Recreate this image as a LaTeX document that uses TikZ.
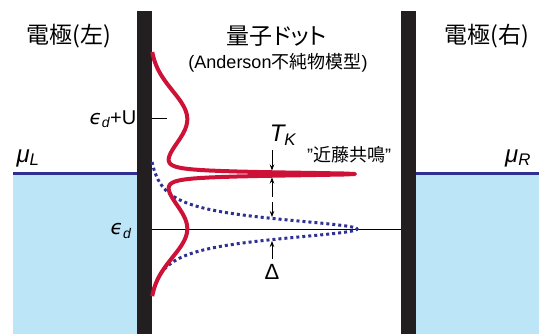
\documentclass[tikz,border=0pt]{standalone}
\usepackage{fontspec}
\setmainfont{Liberation Sans}
\newfontfamily\jpfont[RawFeature=+palt]{Noto Sans CJK JP}
\newfontfamily\grfont{DejaVu Sans}
\usetikzlibrary{arrows.meta}

\definecolor{wallcol}{RGB}{35,31,32}
\definecolor{fermicol}{RGB}{46,49,146}
\definecolor{seacol}{RGB}{189,229,248}
\definecolor{peakcol}{RGB}{206,17,55}

\tikzset{
  wall/.style={fill=wallcol,draw=none},
  sea/.style={fill=seacol,draw=none},
  fermi/.style={fermicol,line width=3pt},
  lbl/.style={inner sep=0pt,font=\fontsize{23}{27}\selectfont},
  sym/.style={inner sep=0pt,font=\fontsize{22}{26}\selectfont},
  gap/.style={-{Stealth[length=6pt,width=4.5pt]},line width=0.8pt},
}

\begin{document}
\begin{tikzpicture}[x=1pt,y=-1pt]
\useasboundingbox (0,0) rectangle (541,334);
% electrodes
\fill[sea] (13,174) rectangle (137,334);
\fill[sea] (416,174) rectangle (539,334);
\draw[fermi] (13,174) -- (137,174);
\draw[fermi] (416,174) -- (539,174);
% barriers
\fill[wall] (137,11) rectangle (152,334);
\fill[wall] (401,11) rectangle (416,334);
% levels
\draw[line width=1pt] (152,229) -- (401,229);
\draw[line width=1pt] (152,119) -- (167,119);
% bare level (dotted)
\draw[fermicol,line width=3pt,dash pattern=on 3pt off 3pt,variable=\t,samples=269,domain=162:296]
  plot ({152+212.7/(1+((\t-229)/13)^2)-7.7},\t);
% spectral function
\draw[peakcol,line width=4pt,line join=round,variable=\t,samples=489,domain=52:296]
  plot ({150+37*exp(-((\t-119)/40)^2)+37*exp(-((\t-229)/40)^2)+194/(1+((\t-174)/2)^2)},\t);
% widths
\coordinate (tkA) at (272,150);
\coordinate (tkB) at (272,170.5);
\coordinate (tkC) at (272,197);
\coordinate (tkD) at (272,177.5);
\coordinate (dlA) at (272,202);
\coordinate (dlB) at (272,217);
\coordinate (dlC) at (272,259);
\coordinate (dlD) at (272,241);
\draw[gap] (tkA) -- (tkB);
\draw[gap] (tkC) -- (tkD);
\draw[gap] (dlA) -- (dlB);
\draw[gap] (dlC) -- (dlD);
% labels
\node[lbl] (leftlbl) at (69,36) {\jpfont 電極(左)};
\node[lbl] (dotlbl) at (277,36) {\jpfont 量子ドット};
\node[lbl,font=\fontsize{18}{21}\selectfont] (modellbl) at (278,63) {(Anderson{\jpfont 不純物模型})};
\node[lbl] (rightlbl) at (487,36) {\jpfont 電極(右)};
\node[sym,font=\fontsize{24}{28}\selectfont] (muL) at (28,158) {\itshape μ\textsubscript{L}};
\node[sym,font=\fontsize{24}{28}\selectfont] (muR) at (518,158) {\itshape μ\textsubscript{R}};
\node[sym,font=\fontsize{20}{24}\selectfont] (edU) at (113,119) {{\grfont\itshape ϵ}\textsubscript{\itshape d}+U};
\node[sym,font=\fontsize{20}{24}\selectfont] (ed) at (121,231) {{\grfont\itshape ϵ}\textsubscript{\itshape d}};
\node[sym,font=\fontsize{24}{28}\selectfont] (tk) at (283,135) {\itshape T\textsubscript{K}};
\node[sym,font=\fontsize{18}{21}\selectfont] (kondo) at (349,155) {"{\jpfont 近藤共鳴}"};
\node[sym] (dl) at (272,272) {Δ};
\end{tikzpicture}
\end{document}
